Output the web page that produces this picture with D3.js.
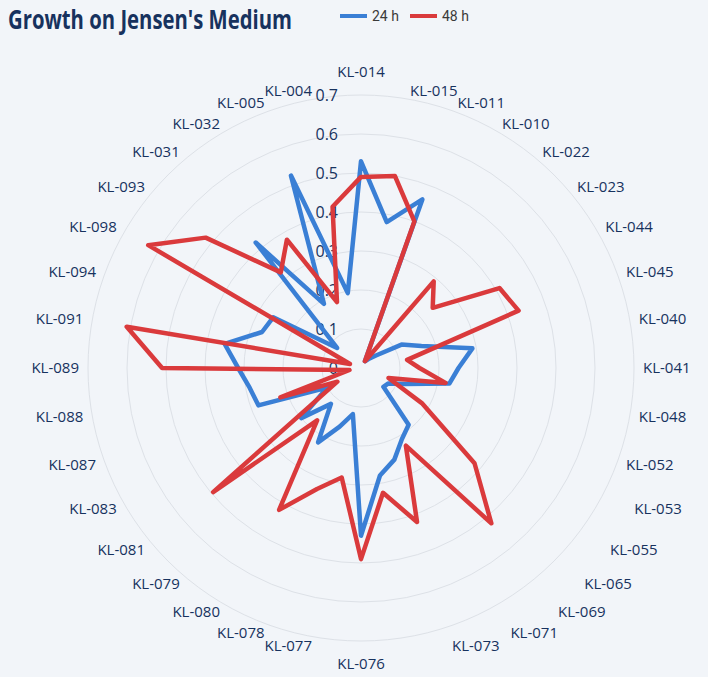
<!DOCTYPE html>
<html>
<head>
<meta charset=utf-8 />
<title>Growth on Jensen's Medium</title>
<style type="text/css">
 body
    {
        margin:0;
        background:#f2f5f9;
    }
</style>
<script src="https://d3js.org/d3.v7.min.js"></script>
</head>
<body>

<div id="chart-container"></div>

<script>

// strains, clockwise from the top
var categories = ["KL-014","KL-015","KL-011","KL-010","KL-022","KL-023","KL-044","KL-045","KL-040","KL-041",
                  "KL-048","KL-052","KL-053","KL-055","KL-065","KL-069","KL-071","KL-073","KL-076","KL-077",
                  "KL-078","KL-080","KL-079","KL-081","KL-083","KL-087","KL-088","KL-089","KL-091","KL-094",
                  "KL-098","KL-093","KL-031","KL-032","KL-005","KL-004"];

var growth24 = [0.53,0.38,0.46,0.02,0.03,0.05,0.12,0.165,0.29,0.25,
                0.23,0.12,0.08,0.075,0.19,0.21,0.25,0.28,0.43,0.12,
                0.16,0.22,0.12,0.20,0.10,0.28,0.29,0.315,0.355,0.27,
                0.26,0.08,0.42,0.19,0.525,0.195];

var growth48 = [0.49,0.50,0.40,0.02,0.29,0.24,0.41,0.43,0.12,0.15,
                0.22,0.075,0.18,0.38,0.52,0.23,0.42,0.325,0.49,0.285,
                0.33,0.42,0.175,0.495,0.07,0.22,0.03,0.51,0.61,0.03,
                0.63,0.52,0.32,0.38,0.18,0.42];

var ticks = [0, 0.1, 0.2, 0.3, 0.4, 0.5, 0.6, 0.7];

var seriesNames = ["24 h", "48 h"];
var seriesColors = ["#3a7fd5", "#da3a3c"];

var width = 708, height = 677;
var cx = 361, cy = 368;
var navy = "#17325e";

var svg = d3.select("#chart-container")
  .append("svg")
    .attr("width", width)
    .attr("height", height);

svg.append("rect")
    .attr("width", width)
    .attr("height", height)
    .attr("fill", "#f2f5f9");

var r = d3.scaleLinear()
    .domain([0, 0.7])
    .range([0, 273]);

var angle = d3.scaleLinear()
    .domain([0, categories.length])
    .range([0, 2 * Math.PI]);

var g = svg.append("g")
    .attr("transform", "translate(" + cx + "," + cy + ")");

// grid rings
g.selectAll(".ring")
  .data(ticks.slice(1))
  .enter()
  .append("circle")
    .attr("class", "ring")
    .attr("r", d => r(d))
    .attr("fill", "none")
    .attr("stroke", "#dde1e7")
    .attr("stroke-width", 1);

// value labels up the vertical axis
g.selectAll(".tick")
  .data(ticks)
  .enter()
  .append("text")
    .attr("class", "tick")
    .attr("x", -23)
    .attr("y", d => -r(d))
    .attr("dy", "0.35em")
    .attr("text-anchor", "end")
    .style("font-family", "'Open Sans', sans-serif")
    .style("font-size", "16px")
    .attr("fill", navy)
    .text(d => d3.format("")(d));

// Excel spreads the lower right labels out a bit
var labelNudge = {"KL-053": 29, "KL-055": 33, "KL-065": 42, "KL-069": 56, "KL-071": 53, "KL-073": 42};

g.selectAll(".cat")
  .data(categories)
  .enter()
  .append("text")
    .attr("class", "cat")
    .attr("x", function(d, i) {
        return Math.sin(angle(i)) * 282 + (labelNudge[d] || 0);
    })
    .attr("y", function(d, i) {
        var s = Math.sin(angle(i)), c = Math.cos(angle(i));
        var y = -c * 282;
        if (Math.abs(s) < 0.05) y -= c * 14;
        return y;
    })
    .attr("dy", "0.35em")
    .attr("text-anchor", function(d, i) {
        var s = Math.sin(angle(i));
        if (Math.abs(s) < 0.05) return "middle";
        return s > 0 ? "start" : "end";
    })
    .style("font-family", "'Open Sans', sans-serif")
    .style("font-size", "15px")
    .attr("fill", navy)
    .text(d => d);

var radar = d3.lineRadial()
    .angle((d, i) => angle(i))
    .radius(d => r(d))
    .curve(d3.curveLinearClosed);

g.selectAll(".series")
  .data([growth24, growth48])
  .enter()
  .append("path")
    .attr("class", "series")
    .attr("d", d => radar(d))
    .attr("fill", "none")
    .attr("stroke", (d, i) => seriesColors[i])
    .attr("stroke-width", 4.5)
    .attr("stroke-linejoin", "round");

// title - squeeze it horizontally so it reads like the narrow original
var titleG = svg.append("g");
var title = titleG.append("text")
    .style("font-family", "'Open Sans', sans-serif")
    .style("font-size", "27px")
    .style("font-weight", "bold")
    .attr("fill", navy)
    .text("Growth on Jensen's Medium");
var tw = title.node().getComputedTextLength();
titleG.attr("transform", "translate(8,29) scale(" + (284 / tw) + ",1)");

// legend
var legend = svg.selectAll(".legend")
  .data(seriesNames)
  .enter()
  .append("g")
    .attr("class", "legend")
    .attr("transform", (d, i) => "translate(" + (340 + i * 70) + ",16)");

legend.append("line")
    .attr("x1", 0)
    .attr("x2", 27)
    .attr("stroke", (d, i) => seriesColors[i])
    .attr("stroke-width", 4)
    .attr("stroke-linecap", "butt");

legend.append("text")
    .attr("x", 32)
    .attr("dy", "0.35em")
    .style("font-family", "'Roboto', sans-serif")
    .style("font-size", "14px")
    .attr("fill", "#3a3a3a")
    .text(d => d);

</script>
</body>
</html>
